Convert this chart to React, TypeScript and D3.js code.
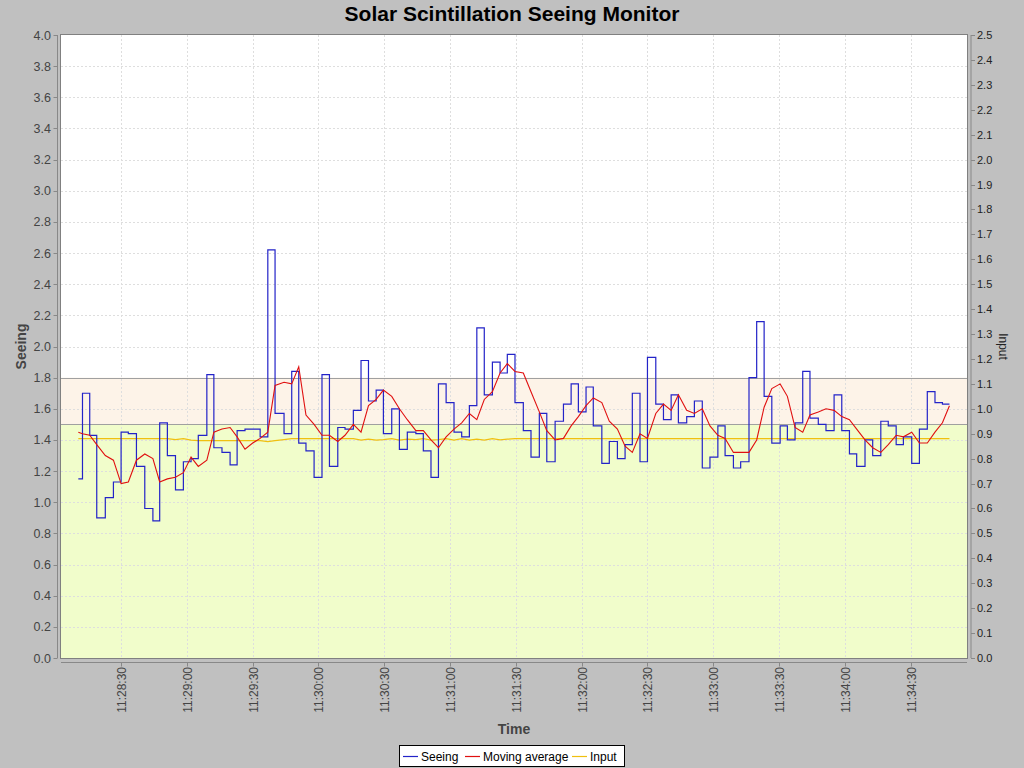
import React from 'react';
import * as d3 from 'd3';

// sample times, seconds after 11:28:00
const sampleSeconds = [
    10.5, 12.4, 15.7, 18.9, 22.8, 26.5, 30.0, 33.3, 37.0, 40.8,
    44.5, 47.6, 51.1, 54.8, 58.4, 61.9, 65.2, 69.1, 72.3, 76.0,
    79.7, 82.9, 86.5, 90.0, 93.4, 96.9, 100.2, 104.3, 107.8, 111.0,
    114.3, 118.0, 121.6, 125.0, 128.8, 132.1, 135.9, 139.4, 142.8, 146.3,
    149.6, 153.4, 156.9, 160.5, 164.4, 167.8, 171.3, 174.7, 178.2, 181.8,
    185.3, 188.8, 192.2, 195.6, 199.3, 202.8, 206.1, 209.6, 213.4, 216.9,
    220.7, 224.1, 227.9, 231.7, 235.2, 238.5, 242.0, 245.3, 249.2, 252.6,
    256.3, 259.8, 263.1, 266.6, 270.0, 273.8, 277.3, 280.8, 284.1, 287.9,
    291.4, 295.0, 298.5, 302.1, 305.4, 309.2, 312.5, 316.3, 319.8, 323.2,
    326.7, 330.5, 333.8, 337.3, 340.8, 344.1, 347.9, 351.4, 355.1, 358.6,
    362.1, 365.4, 369.2, 372.7, 376.4, 379.8, 383.4, 386.7, 390.5, 394.0,
    397.6, 401.1, 404.5, 407.7
];

const seeing = [
    1.15, 1.70, 1.43, 0.90, 1.03, 1.13, 1.45, 1.44, 1.23, 0.96,
    0.88, 1.51, 1.30, 1.08, 1.26, 1.28, 1.43, 1.82, 1.35, 1.32,
    1.24, 1.46, 1.47, 1.47, 1.42, 2.62, 1.57, 1.44, 1.84, 1.38,
    1.33, 1.16, 1.82, 1.23, 1.48, 1.47, 1.59, 1.91, 1.65, 1.72,
    1.44, 1.60, 1.34, 1.45, 1.44, 1.33, 1.16, 1.76, 1.64, 1.45,
    1.42, 1.62, 2.12, 1.69, 1.90, 1.83, 1.95, 1.64, 1.46, 1.29,
    1.57, 1.26, 1.52, 1.63, 1.76, 1.58, 1.74, 1.49, 1.25, 1.39,
    1.28, 1.37, 1.70, 1.26, 1.93, 1.63, 1.53, 1.69, 1.51, 1.55,
    1.65, 1.22, 1.29, 1.49, 1.30, 1.22, 1.26, 1.80, 2.16, 1.68,
    1.38, 1.49, 1.40, 1.51, 1.84, 1.54, 1.50, 1.46, 1.69, 1.46,
    1.31, 1.23, 1.40, 1.30, 1.52, 1.49, 1.37, 1.42, 1.25, 1.47,
    1.71, 1.64, 1.63, 1.63
];

const movingAverage = [
    1.45, 1.44, 1.43, 1.37, 1.30, 1.27, 1.12, 1.13, 1.27, 1.31,
    1.28, 1.13, 1.15, 1.16, 1.19, 1.29, 1.23, 1.27, 1.45, 1.47,
    1.48, 1.42, 1.34, 1.38, 1.41, 1.45, 1.75, 1.77, 1.76, 1.87,
    1.56, 1.50, 1.43, 1.43, 1.39, 1.43, 1.50, 1.45, 1.62, 1.66,
    1.72, 1.68, 1.60, 1.53, 1.46, 1.46, 1.40, 1.35, 1.42, 1.47,
    1.51, 1.57, 1.53, 1.66, 1.71, 1.83, 1.89, 1.84, 1.83, 1.71,
    1.58, 1.46, 1.40, 1.41, 1.49, 1.55, 1.62, 1.67, 1.64, 1.52,
    1.47, 1.36, 1.32, 1.44, 1.41, 1.57, 1.63, 1.59, 1.69, 1.59,
    1.57, 1.60, 1.49, 1.43, 1.41, 1.32, 1.32, 1.32, 1.40, 1.61,
    1.73, 1.76, 1.68, 1.48, 1.45, 1.56, 1.58, 1.60, 1.59, 1.55,
    1.53, 1.47, 1.40, 1.35, 1.32, 1.37, 1.43, 1.42, 1.45, 1.38,
    1.38, 1.45, 1.51, 1.62
];

const input = [
    0.88, 0.88, 0.88, 0.88, 0.88, 0.88, 0.88, 0.88, 0.88, 0.88,
    0.88, 0.88, 0.88, 0.876, 0.88, 0.874, 0.872, 0.872, 0.872, 0.872,
    0.872, 0.872, 0.872, 0.872, 0.872, 0.868, 0.872, 0.876, 0.88, 0.88,
    0.88, 0.88, 0.88, 0.88, 0.88, 0.88, 0.88, 0.874, 0.878, 0.874,
    0.876, 0.88, 0.874, 0.878, 0.876, 0.88, 0.874, 0.876, 0.88, 0.874,
    0.88, 0.874, 0.878, 0.874, 0.88, 0.875, 0.878, 0.88, 0.88, 0.88,
    0.88, 0.88, 0.88, 0.88, 0.88, 0.88, 0.88, 0.88, 0.88, 0.88,
    0.88, 0.88, 0.88, 0.88, 0.88, 0.88, 0.88, 0.88, 0.88, 0.88,
    0.88, 0.88, 0.88, 0.88, 0.88, 0.88, 0.88, 0.88, 0.88, 0.88,
    0.88, 0.88, 0.88, 0.88, 0.88, 0.88, 0.88, 0.88, 0.88, 0.88,
    0.88, 0.88, 0.88, 0.88, 0.88, 0.88, 0.88, 0.88, 0.88, 0.88,
    0.88, 0.88, 0.88, 0.88
];

// seeing bands (left axis units)
const bands = [
    { from: 0, to: 1.5, color: '#f1fdcb' },
    { from: 1.5, to: 1.8, color: '#fdf3e8' }
];
const bandLines = [1.5, 1.8];

const legendItems = [
    { label: 'Seeing', color: '#2323c8' },
    { label: 'Moving average', color: '#e01010' },
    { label: 'Input', color: '#f0c010' }
];

const timeDomain = [2.6, 415.7];
const leftDomain = [0, 4];
const rightDomain = [0, 2.5];

const BASE = new Date(2000, 0, 1, 11, 28, 0).getTime();
const toDate = (s: number) => new Date(BASE + s * 1000);

const W = 1024;
const H = 768;
const plot = { left: 61, top: 35, right: 967, bottom: 658 };
const font = '"Liberation Sans", Arial, sans-serif';

export default function App() {
    const x = d3.scaleTime()
        .domain(timeDomain.map(toDate))
        .range([plot.left, plot.right]);
    const yL = d3.scaleLinear().domain(leftDomain).range([plot.bottom, plot.top]);
    const yR = d3.scaleLinear().domain(rightDomain).range([plot.bottom, plot.top]);

    const xTicks = x.ticks(d3.timeSecond.every(30)!);
    const leftTicks = yL.ticks(20);
    const rightTicks = yR.ticks(25);
    const fmtT = d3.timeFormat('%H:%M:%S');
    const fmt1 = d3.format('.1f');

    const pts = sampleSeconds.map((s, i) => ({
        t: toDate(s), seeing: seeing[i], ma: movingAverage[i], input: input[i]
    }));

    const stepLine = d3.line<typeof pts[0]>()
        .curve(d3.curveStepAfter)
        .x((d) => x(d.t))
        .y((d) => yL(d.seeing));
    const maLine = d3.line<typeof pts[0]>()
        .x((d) => x(d.t))
        .y((d) => yL(d.ma));
    const inLine = d3.line<typeof pts[0]>()
        .x((d) => x(d.t))
        .y((d) => yR(d.input));

    const axisLeftX = plot.left - 3.5;
    const axisRightX = plot.right + 4;
    const axisBottomY = plot.bottom + 4.5;

    // legend layout
    const legend = { x: 399.5, y: 745.5, w: 225, h: 21 };
    const legendX = [403, 465, 572];

    return (
        <svg width={W} height={H} style={{ position: 'absolute', left: 0, top: 0, display: 'block' }}>
            <rect x={0} y={0} width={W} height={H} fill="#c0c0c0" />
            <text x={512} y={21} textAnchor="middle" fontFamily={font} fontWeight="bold" fontSize={21} fill="#000">
                Solar Scintillation Seeing Monitor
            </text>

            {/* plot background */}
            <rect x={plot.left} y={plot.top} width={plot.right - plot.left} height={plot.bottom - plot.top} fill="#fff" />
            {bands.map((b) => (
                <rect key={b.from} x={plot.left} y={yL(b.to)} width={plot.right - plot.left}
                    height={yL(b.from) - yL(b.to)} fill={b.color} />
            ))}

            {/* grid */}
            <g stroke="#dedede" strokeWidth={1} strokeDasharray="2,2" shapeRendering="crispEdges">
                {leftTicks.filter((v) => v > 0 && v < 4).map((v) => (
                    <line key={'h' + v} x1={plot.left} x2={plot.right} y1={Math.round(yL(v)) + 0.5} y2={Math.round(yL(v)) + 0.5} />
                ))}
                {xTicks.map((t) => (
                    <line key={'v' + t.getTime()} x1={Math.round(x(t)) + 0.5} x2={Math.round(x(t)) + 0.5} y1={plot.top} y2={plot.bottom} />
                ))}
            </g>
            {bandLines.map((v) => (
                <line key={'b' + v} x1={plot.left} x2={plot.right} y1={Math.round(yL(v)) + 0.5} y2={Math.round(yL(v)) + 0.5}
                    stroke="#a0a0a0" strokeWidth={1} />
            ))}

            {/* series */}
            <path d={inLine(pts) ?? ''} fill="none" stroke={legendItems[2].color} strokeWidth={1.2} />
            <path d={stepLine(pts) ?? ''} fill="none" stroke={legendItems[0].color} strokeWidth={1.2} />
            <path d={maLine(pts) ?? ''} fill="none" stroke={legendItems[1].color} strokeWidth={1.1} />

            <rect x={plot.left - 0.5} y={plot.top - 0.5} width={plot.right - plot.left + 1} height={plot.bottom - plot.top + 1}
                fill="none" stroke="#808080" strokeWidth={1} />

            {/* left axis */}
            <line x1={axisLeftX} x2={axisLeftX} y1={plot.top} y2={plot.bottom} stroke="#888" />
            {leftTicks.map((v) => (
                <g key={'l' + v}>
                    <line x1={axisLeftX - 4} x2={axisLeftX} y1={Math.round(yL(v)) + 0.5} y2={Math.round(yL(v)) + 0.5} stroke="#888" />
                    <text x={51} y={yL(v) + 4.5} textAnchor="end" fontFamily={font} fontSize={12.5} fill="#444">{fmt1(v)}</text>
                </g>
            ))}
            <text transform={`translate(26, ${(plot.top + plot.bottom) / 2}) rotate(-90)`} textAnchor="middle"
                fontFamily={font} fontWeight="bold" fontSize={14} fill="#444">Seeing</text>

            {/* right axis */}
            <line x1={axisRightX} x2={axisRightX} y1={plot.top} y2={plot.bottom} stroke="#888" />
            {rightTicks.map((v) => (
                <g key={'r' + v}>
                    <line x1={axisRightX} x2={axisRightX + 4} y1={Math.round(yR(v)) + 0.5} y2={Math.round(yR(v)) + 0.5} stroke="#888" />
                    <text x={977} y={yR(v) + 4} fontFamily={font} fontSize={11} fill="#222">{fmt1(v)}</text>
                </g>
            ))}
            <text transform={`translate(999, ${(plot.top + plot.bottom) / 2}) rotate(90)`} textAnchor="middle"
                fontFamily={font} fontSize={12} fill="#222">Input</text>

            {/* bottom axis */}
            <line x1={plot.left} x2={plot.right} y1={axisBottomY} y2={axisBottomY} stroke="#888" />
            {xTicks.map((t) => (
                <g key={'x' + t.getTime()}>
                    <line x1={Math.round(x(t)) + 0.5} x2={Math.round(x(t)) + 0.5} y1={axisBottomY} y2={axisBottomY + 4} stroke="#888" />
                    <text transform={`translate(${x(t) + 5}, 667) rotate(-90)`} textAnchor="end"
                        fontFamily={font} fontSize={12} fill="#444">{fmtT(t)}</text>
                </g>
            ))}
            <text x={(plot.left + plot.right) / 2} y={734} textAnchor="middle" fontFamily={font} fontWeight="bold"
                fontSize={14} fill="#444">Time</text>

            {/* legend */}
            <rect x={legend.x} y={legend.y} width={legend.w} height={legend.h} fill="#fff" stroke="#000" />
            {legendItems.map((item, i) => (
                <g key={item.label}>
                    <line x1={legendX[i]} x2={legendX[i] + 15} y1={756.5} y2={756.5} stroke={item.color} strokeWidth={1.2} />
                    <text x={legendX[i] + 18} y={760.5} fontFamily={font} fontSize={12} fill="#000">{item.label}</text>
                </g>
            ))}
        </svg>
    );
}
